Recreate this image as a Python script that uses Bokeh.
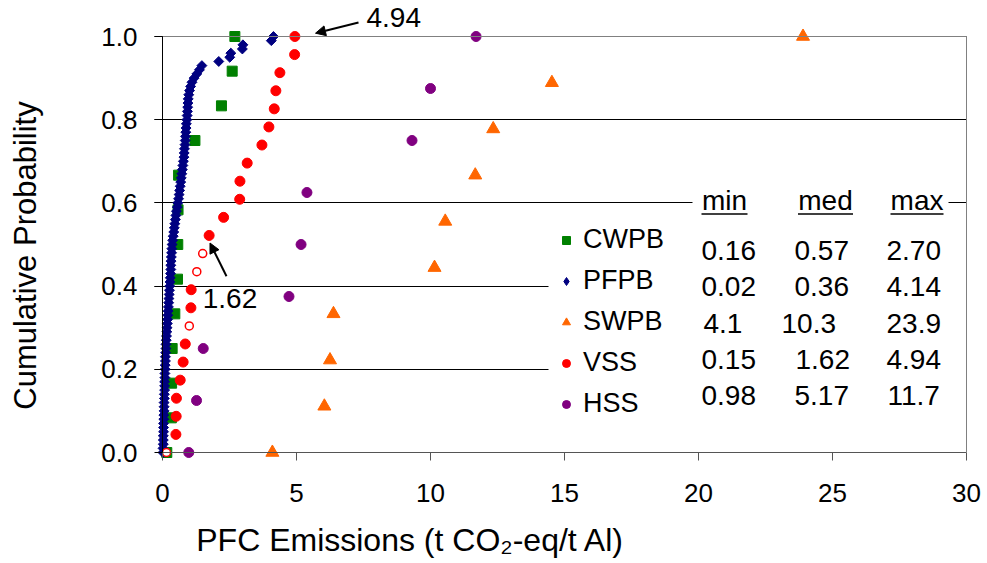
import numpy as np
from bokeh.plotting import figure
from bokeh.models import (ColumnDataSource, FixedTicker, Label, Arrow, NormalHead,
                          BoxAnnotation, Legend, LegendItem, LinearAxis,
                          PrintfTickFormatter)
from bokeh.embed import file_html
from bokeh.resources import INLINE

# ---------------- data ----------------
series_names = ["CWPB", "PFPB", "SWPB", "VSS", "HSS"]

cwpb = [0.16, 0.33, 0.34, 0.36, 0.46, 0.56, 0.57, 0.58, 0.60, 1.21, 2.20, 2.60, 2.70]

pfpb = [0.02, 0.02, 0.03, 0.03, 0.03, 0.04, 0.04, 0.04, 0.05, 0.05, 0.06,
        0.06, 0.06, 0.07, 0.07, 0.08, 0.08, 0.08, 0.09, 0.09, 0.10,
        0.10, 0.11, 0.11, 0.12, 0.13, 0.13, 0.14, 0.15, 0.16, 0.17,
        0.18, 0.19, 0.20, 0.21, 0.22, 0.23, 0.24, 0.25, 0.26, 0.27,
        0.28, 0.29, 0.30, 0.31, 0.31, 0.32, 0.33, 0.34, 0.35, 0.36,
        0.38, 0.40, 0.42, 0.44, 0.46, 0.48, 0.50, 0.52, 0.55, 0.57,
        0.60, 0.62, 0.64, 0.66, 0.68, 0.70, 0.72, 0.74, 0.76, 0.78,
        0.80, 0.81, 0.82, 0.84, 0.85, 0.86, 0.87, 0.88, 0.89, 0.91,
        0.92, 0.93, 0.94, 0.95, 0.96, 0.98, 1.01, 1.05, 1.10, 1.18,
        1.28, 1.38, 1.47, 2.10, 2.51, 2.55, 2.98, 3.00, 4.06, 4.14]

swpb = [4.10, 6.04, 6.25, 6.38, 10.15, 10.55, 11.67, 12.34, 14.53, 23.90]

vss = [0.15, 0.50, 0.51, 0.52, 0.66, 0.77, 0.85, 1.00, 1.06, 1.07, 1.28, 1.50,
       1.74, 2.28, 2.88, 2.89, 3.16, 3.71, 3.97, 4.17, 4.23, 4.38, 4.93, 4.94]
vss_open = [True, False, False, False, False, False, False, True, False, False, True, True,
            False, False, False, False, False, False, False, False, False, False, False, False]

hss = [0.98, 1.27, 1.52, 4.72, 5.17, 5.39, 9.31, 10.00, 11.70]

table_header = ["min", "med", "max"]
table_rows = [["0.16", "0.57", "2.70"],
              ["0.02", "0.36", "4.14"],
              ["4.1", "10.3", "23.9"],
              ["0.15", "1.62", "4.94"],
              ["0.98", "5.17", "11.7"]]

note_med = "1.62"
note_max = "4.94"

x_ticks = [0, 5, 10, 15, 20, 25, 30]
y_ticks = [0.0, 0.2, 0.4, 0.6, 0.8, 1.0]
x_label = "PFC Emissions (t CO\u2082-eq/t Al)"
y_label = "Cumulative Probability"

colors = {"CWPB": "#008000", "PFPB": "#000080", "SWPB": "#FF6600",
          "VSS": "#FF0000", "HSS": "#800080"}

FONT = "Liberation Sans"
W, H = 987, 563


def ranks(vals):
    n = len(vals)
    return [i / (n - 1) for i in range(n)]


# canvas-pixel -> data helpers for placing annotations (layout only)
X0, XS = 162.0, 26.8
Y0, YS = 452.0, 416.0


def xd(px):
    return (px - X0) / XS


def yd(py):
    return (Y0 - py) / YS


def mid(baseline, size):
    # y (canvas px) of a "middle"-anchored text whose baseline sits at `baseline`
    return baseline - 0.3465 * size


p = figure(width=W, height=H, x_range=(xd(0), xd(W)), y_range=(yd(H), yd(0)),
           min_border_left=0, min_border_right=0, min_border_top=0,
           min_border_bottom=0, output_backend="svg", toolbar_location=None,
           tools="")
p.outline_line_color = None
p.background_fill_color = "white"
p.border_fill_color = "white"

# x axis
xa = p.xaxis[0]
xa.fixed_location = 0
xa.bounds = (0, 30)
xa.ticker = FixedTicker(ticks=x_ticks)
xa.axis_line_color = "#555555"
xa.major_tick_line_color = "#555555"
xa.major_tick_out = 8
xa.major_tick_in = 0
xa.minor_tick_line_color = None
xa.major_label_text_font = FONT
xa.major_label_text_font_size = "26px"
xa.major_label_text_color = "black"
xa.major_label_standoff = 23

# y axis
ya = p.yaxis[0]
ya.fixed_location = 0
ya.bounds = (0, 1)
ya.ticker = FixedTicker(ticks=y_ticks)
ya.formatter = PrintfTickFormatter(format="%.1f")
ya.axis_line_color = "black"
ya.major_tick_line_color = "black"
ya.major_tick_out = 8
ya.major_tick_in = 0
ya.minor_tick_line_color = None
ya.major_label_text_font = FONT
ya.major_label_text_font_size = "26px"
ya.major_label_text_color = "black"
ya.major_label_standoff = 17

# border axes (plot-area frame)
for loc, side, bnds in [(30, "right", (0, 1)), (1.0, "above", (0, 30))]:
    ax = LinearAxis(fixed_location=loc, bounds=bnds, ticker=FixedTicker(ticks=[]),
                    axis_line_color="#808080", major_tick_line_color=None,
                    minor_tick_line_color=None, major_tick_out=0, major_tick_in=0,
                    major_label_text_font_size="0px")
    p.add_layout(ax, side)

p.xgrid.visible = False
p.ygrid.ticker = FixedTicker(ticks=y_ticks[1:])
p.ygrid.grid_line_color = "black"
p.ygrid.grid_line_width = 1
p.ygrid.cross_bounds = (xd(154), 30)

# white boxes behind legend / table
p.add_layout(BoxAnnotation(left=xd(548), right=30, bottom=yd(440), top=yd(222),
                           fill_color="white", fill_alpha=1, line_color=None,
                           level="glyph"))
p.add_layout(BoxAnnotation(left=xd(692), right=xd(948), bottom=yd(219), top=yd(185),
                           fill_color="white", fill_alpha=1, line_color=None,
                           level="glyph"))

# series
r_cw = p.scatter(x=cwpb, y=ranks(cwpb), marker="square", size=10,
                 fill_color=colors["CWPB"], line_color=colors["CWPB"])
r_pf = p.scatter(x=pfpb, y=ranks(pfpb), marker="square", angle=np.pi / 4, size=7,
                 fill_color=colors["PFPB"], line_color=colors["PFPB"])
r_sw = p.scatter(x=swpb, y=ranks(swpb), marker="triangle", size=13,
                 fill_color=colors["SWPB"], line_color=colors["SWPB"])
vy = ranks(vss)
vx_f = [v for v, o in zip(vss, vss_open) if not o]
vy_f = [y for y, o in zip(vy, vss_open) if not o]
vx_o = [v for v, o in zip(vss, vss_open) if o]
vy_o = [y for y, o in zip(vy, vss_open) if o]
r_vs = p.scatter(x=vx_f, y=vy_f, marker="circle", size=10,
                 fill_color=colors["VSS"], line_color=colors["VSS"])
p.scatter(x=vx_o, y=vy_o, marker="circle", size=8, fill_color="white",
          line_color=colors["VSS"], line_width=1.5)
r_hs = p.scatter(x=hss, y=ranks(hss), marker="circle", size=10,
                 fill_color=colors["HSS"], line_color=colors["HSS"])
# hidden twin of PFPB so its legend key shows a diamond (keys ignore marker angle)
r_pf_key = p.scatter(x=pfpb, y=ranks(pfpb), marker="diamond", size=10,
                     fill_color=colors["PFPB"], line_color=colors["PFPB"],
                     visible=False)

legend = Legend(items=[LegendItem(label=n, renderers=[r]) for n, r in
                       zip(series_names, [r_cw, r_pf_key, r_sw, r_vs, r_hs])],
                location=(556, H - 419), glyph_width=20, glyph_height=20,
                label_height=20, spacing=10, padding=0, margin=0,
                border_line_color=None, background_fill_alpha=0,
                inactive_fill_alpha=0,
                label_text_font=FONT, label_text_font_size="27px",
                label_text_color="black", label_standoff=7)
p.add_layout(legend)

# table
col_left = [[701, 794, 886], [701, 794, 886], [703, 781, 886],
            [701, 795, 886], [701, 794, 887]]
row_base = [260, 296.2, 332.4, 368.6, 404.8]
for row, lefts, base in zip(table_rows, col_left, row_base):
    for txt, lx in zip(row, lefts):
        p.add_layout(Label(x=xd(lx), y=yd(mid(base, 28)), text=txt, text_font=FONT,
                           text_font_size="28px", text_align="left",
                           text_baseline="middle", text_color="black"))
head_c = [724, 825, 916.5]
head_w = [46, 55, 53]
for txt, cx, w in zip(table_header, head_c, head_w):
    p.add_layout(Label(x=xd(cx), y=yd(mid(210, 28)), text=txt, text_font=FONT,
                       text_font_size="28px", text_align="center",
                       text_baseline="middle", text_color="black"))
    p.add_layout(Arrow(start=None, end=None, x_start=xd(cx - w / 2), x_end=xd(cx + w / 2),
                       y_start=yd(213.5), y_end=yd(213.5), line_width=1.5,
                       line_color="black"))

# notes with arrows
p.add_layout(Label(x=xd(366), y=yd(mid(26.5, 28)), text=note_max, text_font=FONT,
                   text_font_size="28px", text_baseline="middle", text_color="black"))
p.add_layout(Arrow(end=NormalHead(size=10, fill_color="black", line_color="black"),
                   x_start=xd(358), y_start=yd(22), x_end=xd(315), y_end=yd(32.7),
                   line_width=2, line_color="black"))
p.add_layout(Label(x=xd(229.5), y=yd(mid(308, 28)), text=note_med, text_font=FONT,
                   text_font_size="28px", text_align="center",
                   text_baseline="middle", text_color="black"))
p.add_layout(Arrow(end=NormalHead(size=10, fill_color="black", line_color="black"),
                   x_start=xd(226), y_start=yd(275.7), x_end=xd(209.5), y_end=yd(242.5),
                   line_width=2, line_color="black"))

# axis titles
p.add_layout(Label(x=xd(410), y=yd(mid(551, 32)), text=x_label, text_font=FONT,
                   text_font_size="32px", text_align="center",
                   text_baseline="middle", text_color="black"))
p.add_layout(Label(x=xd(25), y=yd(255), text=y_label, text_font=FONT,
                   text_font_size="31px", text_align="center",
                   text_baseline="middle", angle=np.pi / 2, text_color="black"))

open("out.html", "w").write(file_html(p, INLINE))
